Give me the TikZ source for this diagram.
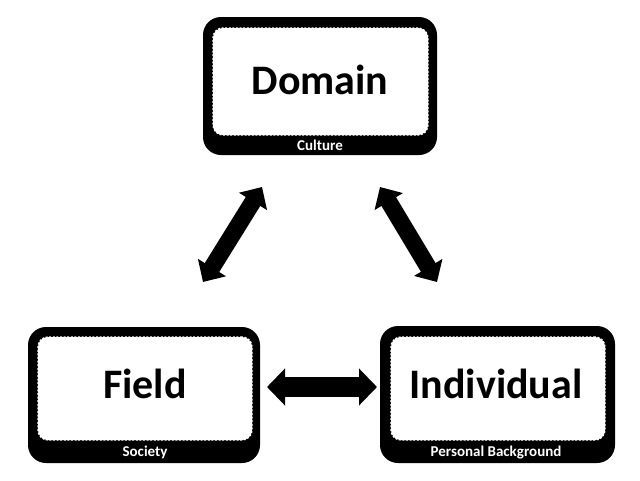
\documentclass[tikz,border=0pt]{standalone}
\usepackage{fontspec}
\setmainfont{Carlito}
\usetikzlibrary{arrows.meta}
\tikzset{
  outerbox/.style={fill=black, rounded corners=18pt, inner sep=0pt, draw=none},
  innerbox/.style={fill=white, draw=white, line width=1.4pt, dash pattern=on 2pt off 1.6pt, rounded corners=10pt, inner sep=0pt},
  bigtext/.style={font=\bfseries\fontsize{42}{46}\selectfont, inner sep=0pt},
  smalltext/.style={font=\bfseries\fontsize{15}{17}\selectfont, text=white, inner sep=0pt},
  fatarrow/.style={line width=20pt, {Triangle[length=18pt,width=36pt]}-{Triangle[length=18pt,width=36pt]}},
  diagarrow/.style={line width=17pt, {Triangle[length=17pt,width=32pt]}-{Triangle[length=17pt,width=32pt]}},
}
\begin{document}
\begin{tikzpicture}[x=1pt,y=-1pt]
\useasboundingbox (0,0) rectangle (640,480);
% Domain
\node[outerbox, minimum width=234pt, minimum height=138pt] (domain) at (320,86) {};
\node[innerbox, minimum width=215pt, minimum height=107pt] (domaininner) at (320.5,81.5) {};
\node[bigtext] (domaintext) at (320,80) {Domain};
\node[smalltext] (culture) at (320,145) {Culture};
% Field
\node[outerbox, minimum width=232pt, minimum height=136pt] (field) at (144,395) {};
\node[innerbox, minimum width=214pt, minimum height=103pt] (fieldinner) at (145,388.5) {};
\node[bigtext] (fieldtext) at (145,384) {Field};
\node[smalltext] (society) at (145,452.5) {Society};
% Individual
\node[outerbox, minimum width=235pt, minimum height=137pt] (individual) at (497.5,394.5) {};
\node[innerbox, minimum width=214pt, minimum height=103pt] (individualinner) at (498,388.5) {};
\node[bigtext] (individualtext) at (496,384) {Individual};
\node[smalltext] (personal) at (496,452.5) {Personal Background};
% arrow ends
\coordinate (a1) at (203,282);
\coordinate (a2) at (262,187);
\coordinate (b1) at (380,187);
\coordinate (b2) at (437,282);
\coordinate (c1) at (267,387);
\coordinate (c2) at (377,387);
\draw[diagarrow] (a1) -- (a2);
\draw[diagarrow] (b1) -- (b2);
\draw[fatarrow] (c1) -- (c2);
\end{tikzpicture}
\end{document}
